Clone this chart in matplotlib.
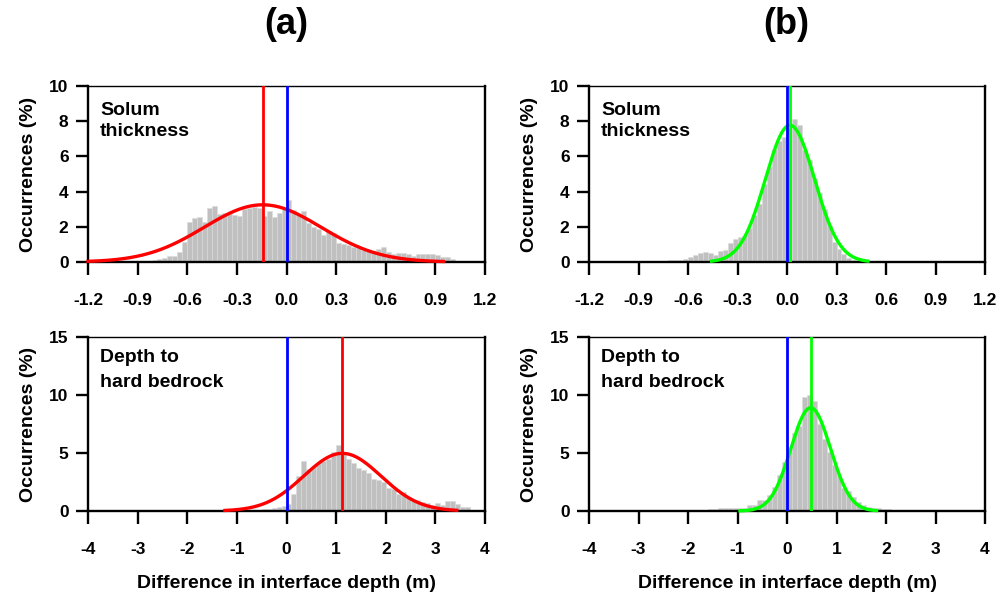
import matplotlib
matplotlib.use("Agg")
import matplotlib.pyplot as plt
import numpy as np

plt.rcParams['font.family'] = ['Liberation Sans', 'DejaVu Sans']
plt.rcParams['font.weight'] = 'bold'
plt.rcParams['axes.unicode_minus'] = False

# histogram data (occurrences in %), bins listed from first non-empty bin
# (a) top: solum thickness, 0.03 m bins starting at -0.87 m
sol_a_start = -0.87
sol_a_width = 0.03
sol_a = [0.05, 0.07, 0.1, 0.15, 0.2, 0.34, 0.34, 0.59, 1.15,
         2.3, 2.5, 2.58, 2.3, 3.05, 3.2, 2.7, 2.76, 2.76, 2.67,
         2.63, 3.0, 3.05, 3.1, 3.05, 2.63, 2.9, 2.58, 2.76, 3.0,
         3.55, 2.95, 2.75, 2.9, 2.2, 2.0, 1.9, 1.55, 1.75, 1.65,
         1.06, 1.0, 0.97, 0.85, 0.82, 0.7, 0.68, 0.63, 0.75, 0.87,
         0.55, 0.47, 0.53, 0.53, 0.45, 0.34, 0.44, 0.44, 0.44, 0.44,
         0.42, 0.27, 0.27, 0.15]
# (a) bottom: depth to hard bedrock, 0.1 m bins starting at -0.7 m
dep_a_start = -0.7
dep_a_width = 0.1
dep_a = [0.05, 0.1, 0.15, 0.2, 0.25, 0.35, 0.45, 0.6, 1.5, 3.0,
         4.3, 3.65, 3.8, 4.1, 4.3, 4.45, 5.1, 5.7, 5.0, 4.5,
         4.1, 3.7, 3.5, 3.3, 2.8, 2.67, 2.5, 1.95, 1.87, 1.5,
         1.6, 1.24, 0.9, 0.95, 0.8, 0.72, 0.5, 0.72, 0.5, 0.86,
         0.86, 0.57, 0.32, 0.32]
# (b) top: solum thickness, 0.03 m bins starting at -0.84 m
sol_b_start = -0.84
sol_b_width = 0.03
sol_b = [0.05, 0.08, 0.08, 0.08, 0.1, 0.1, 0.12, 0.15, 0.28, 0.38,
         0.5, 0.55, 0.5, 0.42, 0.65, 0.7, 1.1, 1.3, 1.42, 1.5,
         1.95, 2.65, 3.3, 4.45, 5.4, 6.4, 6.9, 7.1, 7.6, 8.1,
         7.8, 6.35, 5.8, 4.8, 3.9, 3.0, 2.1, 1.14, 0.76, 0.47,
         0.2, 0.1]
# (b) bottom: depth to hard bedrock, 0.1 m bins starting at -2.3 m
dep_b_start = -2.3
dep_b_width = 0.1
dep_b = [0.08, 0.1, 0.06, 0.05, 0.05, 0.05, 0.1, 0.14, 0.14, 0.23,
         0.23, 0.3, 0.3, 0.25, 0.3, 0.52, 0.52, 0.95, 0.95, 1.38,
         2.1, 3.1, 4.25, 5.4, 6.7, 7.3, 9.8, 10.0, 9.5, 7.5,
         6.2, 5.1, 4.0, 3.0, 2.0, 1.7, 1.24, 0.8, 0.52, 0.37,
         0.29, 0.29, 0.17, 0.17, 0.1, 0.05, 0.05, 0.05, 0.05, 0.1]

# fitted normal curves: mean, sd, peak height (%), drawn range
fit_sol_a = dict(mu=-0.144, sd=0.354, peak=3.25, lo=-1.2, hi=0.95)
fit_dep_a = dict(mu=1.125, sd=0.778, peak=4.97, lo=-1.24, hi=3.43)
fit_sol_b = dict(mu=0.018, sd=0.149, peak=7.77, lo=-0.457, hi=0.49)
fit_dep_b = dict(mu=0.478, sd=0.40, peak=8.9, lo=-0.95, hi=1.81)

sol_xticks = [-1.2, -0.9, -0.6, -0.3, 0.0, 0.3, 0.6, 0.9, 1.2]
dep_xticks = [-4, -3, -2, -1, 0, 1, 2, 3, 4]
sol_yticks = [0, 2, 4, 6, 8, 10]
dep_yticks = [0, 5, 10, 15]

W, H = 998, 596
fig = plt.figure(figsize=(W / 100, H / 100), dpi=100)


def px_axes(x0, y0, x1, y1):
    return fig.add_axes([x0 / W, 1 - y1 / H, (x1 - x0) / W, (y1 - y0) / H])


def panel(ax, start, width, heights, fit, fit_color, xticks, yticks, fmt,
          label, first, gap):
    lefts = start + width * np.arange(len(heights))
    ax.bar(lefts, heights, width=width, align='edge', color='#c0c0c0',
           edgecolor='#dadada', linewidth=0.4, zorder=1)
    xs = np.linspace(fit['lo'], fit['hi'], 300)
    ys = fit['peak'] * np.exp(-(xs - fit['mu']) ** 2 / (2 * fit['sd'] ** 2))
    ax.plot(xs, ys, color=fit_color, lw=2.4, zorder=3, clip_on=False)
    ax.axvline(0, color='#0000ff', lw=2.0, zorder=4)
    ax.axvline(fit['mu'], color=fit_color, lw=2.0, zorder=4)
    ax.set_xlim(xticks[0], xticks[-1])
    ax.set_ylim(yticks[0], yticks[-1])
    ax.set_xticks(xticks)
    ax.set_xticklabels([fmt.format(t) for t in xticks])
    ax.set_yticks(yticks)
    ax.tick_params(direction='out', length=9, width=1.7, labelsize=12.5)
    ax.tick_params(axis='x', pad=13)
    ax.tick_params(axis='y', pad=5)
    for s in ['left', 'bottom', 'right']:
        ax.spines[s].set_linewidth(1.7)
    ax.spines['top'].set_linewidth(1.0)
    ax.set_ylabel('Occurrences (%)', fontsize=14, fontweight='bold', labelpad=9)
    for k, line in enumerate(label.split('\n')):
        ax.annotate(line, xy=(0, 1), xycoords='axes fraction',
                    xytext=(12, -first - k * gap), textcoords='offset pixels',
                    fontsize=14, fontweight='bold', va='baseline', ha='left')


ax1 = px_axes(88, 86, 485, 262)
panel(ax1, sol_a_start, sol_a_width, sol_a, fit_sol_a, '#ff0000',
      sol_xticks, sol_yticks, '{:.1f}', 'Solum\nthickness', 29, 21)
ax2 = px_axes(589, 86, 985, 262)
panel(ax2, sol_b_start, sol_b_width, sol_b, fit_sol_b, '#00ff00',
      sol_xticks, sol_yticks, '{:.1f}', 'Solum\nthickness', 29, 21)
ax3 = px_axes(88, 337, 485, 511)
panel(ax3, dep_a_start, dep_a_width, dep_a, fit_dep_a, '#ff0000',
      dep_xticks, dep_yticks, '{:d}', 'Depth to\nhard bedrock', 25, 25)
ax4 = px_axes(589, 337, 985, 511)
panel(ax4, dep_b_start, dep_b_width, dep_b, fit_dep_b, '#00ff00',
      dep_xticks, dep_yticks, '{:d}', 'Depth to\nhard bedrock', 25, 25)

for ax in (ax3, ax4):
    ax.set_xlabel('Difference in interface depth (m)', fontsize=14,
                  fontweight='bold', labelpad=13)

fig.text(286 / W, 1 - 25 / H, '(a)', fontsize=26, fontweight='bold',
         ha='center', va='center')
fig.text(786 / W, 1 - 25 / H, '(b)', fontsize=26, fontweight='bold',
         ha='center', va='center')

fig.savefig('out.png', dpi=100)
